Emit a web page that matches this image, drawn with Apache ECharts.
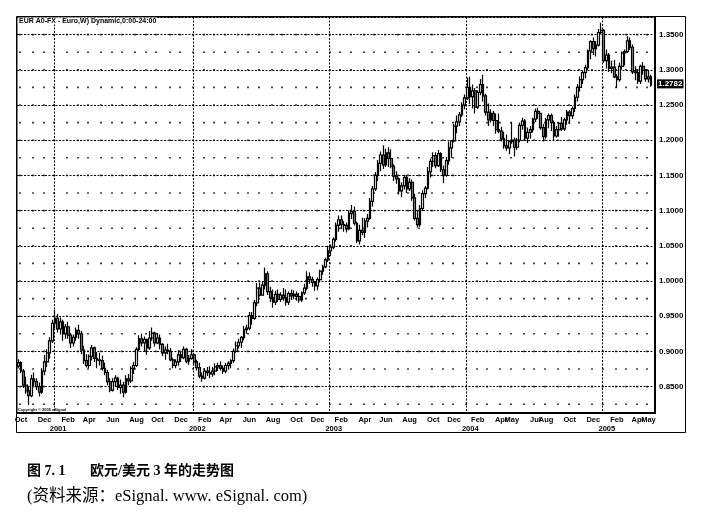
<!DOCTYPE html>
<html><head><meta charset="utf-8">
<script src="https://cdn.jsdelivr.net/npm/echarts/dist/echarts.min.js"></script>
<style>html,body{margin:0;padding:0;background:#fff}#c{width:704px;height:526px}</style>
</head><body><div id="c"></div>
<script>
// ---- data (weekly EUR/USD, first week starting 2000-09-25) ----
const startDate = '2000-09-25';
const weekSlots = 243;
const opens = [
.8790,.8840,.8720,.8520,.8440,.8370,.8610,.8570,.8500,.8420,
.8720,.8850,.8980,.9150,.9400,.9470,.9320,.9420,.9250,.9350,
.9230,.9120,.9200,.9300,.9250,.9020,.8870,.8800,.8930,.9050,
.8900,.8880,.8870,.8760,.8700,.8570,.8450,.8570,.8620,.8490,
.8520,.8420,.8610,.8580,.8760,.8800,.9030,.9180,.9120,.9170,
.9050,.9190,.9260,.9120,.9190,.9100,.8980,.9020,.9000,.8880,
.8800,.8850,.8950,.8910,.9030,.8860,.8900,.8950,.8850,.8770,
.8650,.8620,.8720,.8700,.8680,.8720,.8780,.8800,.8760,.8720,
.8800,.8830,.8870,.9000,.9080,.9130,.9200,.9310,.9330,.9510,
.9470,.9690,.9900,.9800,.9940,1.0100,.9850,.9760,.9700,.9810,
.9740,.9800,.9760,.9700,.9820,.9790,.9810,.9780,.9730,.9830,
.9900,1.0060,1.0020,.9980,.9930,1.0020,1.0140,1.0200,1.0300,1.0430,
1.0480,1.0590,1.0790,1.0870,1.0800,1.0790,1.0740,1.0960,1.0990,1.0820,
1.0570,1.0720,1.0690,1.0850,1.0890,1.1130,1.1310,1.1500,1.1670,1.1790,
1.1650,1.1820,1.1740,1.1630,1.1490,1.1450,1.1280,1.1350,1.1470,1.1310,
1.1400,1.1180,1.0890,1.0800,1.1030,1.1240,1.1320,1.1550,1.1700,1.1780,
1.1640,1.1810,1.1580,1.1500,1.1710,1.1890,1.1990,1.2200,1.2260,1.2360,
1.2500,1.2600,1.2750,1.2620,1.2700,1.2470,1.2680,1.2790,1.2630,1.2400,
1.2290,1.2380,1.2280,1.2150,1.2130,1.2020,1.1920,1.1890,1.1980,1.2000,
1.1900,1.2000,1.2210,1.2270,1.2030,1.2110,1.2150,1.2300,1.2410,1.2380,
1.2180,1.2050,1.2290,1.2350,1.2250,1.2060,1.2150,1.2240,1.2160,1.2290,
1.2400,1.2350,1.2450,1.2610,1.2750,1.2860,1.2960,1.3030,1.3270,1.3400,
1.3300,1.3350,1.3530,1.3560,1.3130,1.3210,1.3020,1.3040,1.2900,1.2860,
1.3050,1.3240,1.3260,1.3410,1.3320,1.2970,1.2960,1.2840,1.3050,1.2990,
1.2870,1.2900];
const closes = [
.8840,.8720,.8520,.8440,.8370,.8610,.8570,.8500,.8420,.8720,
.8850,.8980,.9150,.9400,.9470,.9320,.9420,.9250,.9350,.9230,
.9120,.9200,.9300,.9250,.9020,.8870,.8800,.8930,.9050,.8900,
.8880,.8870,.8760,.8700,.8570,.8450,.8570,.8620,.8490,.8520,
.8420,.8610,.8580,.8760,.8800,.9030,.9180,.9120,.9170,.9050,
.9190,.9260,.9120,.9190,.9100,.8980,.9020,.9000,.8880,.8800,
.8850,.8950,.8910,.9030,.8860,.8900,.8950,.8850,.8770,.8650,
.8620,.8720,.8700,.8680,.8720,.8780,.8800,.8760,.8720,.8800,
.8830,.8870,.9000,.9080,.9130,.9200,.9310,.9330,.9510,.9470,
.9690,.9900,.9800,.9940,1.0100,.9850,.9760,.9700,.9810,.9740,
.9800,.9760,.9700,.9820,.9790,.9810,.9780,.9730,.9830,.9900,
1.0060,1.0020,.9980,.9930,1.0020,1.0140,1.0200,1.0300,1.0430,1.0480,
1.0590,1.0790,1.0870,1.0800,1.0790,1.0740,1.0960,1.0990,1.0820,1.0570,
1.0720,1.0690,1.0850,1.0890,1.1130,1.1310,1.1500,1.1670,1.1790,1.1650,
1.1820,1.1740,1.1630,1.1490,1.1450,1.1280,1.1350,1.1470,1.1310,1.1400,
1.1180,1.0890,1.0800,1.1030,1.1240,1.1320,1.1550,1.1700,1.1780,1.1640,
1.1810,1.1580,1.1500,1.1710,1.1890,1.1990,1.2200,1.2260,1.2360,1.2500,
1.2600,1.2750,1.2620,1.2700,1.2470,1.2680,1.2790,1.2630,1.2400,1.2290,
1.2380,1.2280,1.2150,1.2130,1.2020,1.1920,1.1890,1.1980,1.2000,1.1900,
1.2000,1.2210,1.2270,1.2030,1.2110,1.2150,1.2300,1.2410,1.2380,1.2180,
1.2050,1.2290,1.2350,1.2250,1.2060,1.2150,1.2240,1.2160,1.2290,1.2400,
1.2350,1.2450,1.2610,1.2750,1.2860,1.2960,1.3030,1.3270,1.3400,1.3300,
1.3350,1.3530,1.3560,1.3130,1.3210,1.3020,1.3040,1.2900,1.2860,1.3050,
1.3240,1.3260,1.3410,1.3320,1.2970,1.2960,1.2840,1.3050,1.2990,1.2870,
1.2900,1.2782];
const lows = [
.8760,.8690,.8480,.8400,.8240,.8350,.8510,.8450,.8360,.8400,
.8660,.8780,.8900,.9120,.9330,.9270,.9240,.9150,.9180,.9180,
.9050,.9070,.9150,.9180,.8960,.8820,.8770,.8760,.8870,.8850,
.8760,.8800,.8730,.8660,.8520,.8420,.8430,.8500,.8450,.8400,
.8350,.8400,.8520,.8550,.8680,.8780,.9000,.9070,.9000,.8950,
.9020,.9150,.9070,.9100,.9030,.8930,.8880,.8960,.8860,.8760,
.8760,.8800,.8850,.8890,.8830,.8810,.8880,.8800,.8730,.8620,
.8570,.8600,.8650,.8620,.8640,.8660,.8720,.8730,.8680,.8690,
.8740,.8760,.8840,.8980,.9040,.9050,.9160,.9250,.9300,.9380,
.9450,.9640,.9780,.9790,.9880,.9800,.9700,.9620,.9660,.9700,
.9700,.9720,.9650,.9660,.9730,.9740,.9720,.9690,.9700,.9800,
.9870,.9960,.9920,.9860,.9870,.9980,1.0090,1.0180,1.0270,1.0350,
1.0450,1.0560,1.0700,1.0740,1.0700,1.0690,1.0720,1.0880,1.0790,1.0540,
1.0520,1.0650,1.0610,1.0760,1.0870,1.1060,1.1280,1.1420,1.1560,1.1590,
1.1620,1.1620,1.1600,1.1420,1.1380,1.1230,1.1190,1.1300,1.1250,1.1280,
1.1140,1.0860,1.0760,1.0770,1.0990,1.1180,1.1300,1.1470,1.1620,1.1600,
1.1620,1.1550,1.1390,1.1480,1.1650,1.1750,1.1970,1.2100,1.2200,1.2330,
1.2440,1.2570,1.2510,1.2450,1.2380,1.2440,1.2640,1.2550,1.2350,1.2200,
1.2250,1.2200,1.2090,1.2100,1.1980,1.1880,1.1850,1.1800,1.1950,1.1770,
1.1860,1.1970,1.2150,1.1990,1.1960,1.2020,1.2110,1.2260,1.2300,1.2150,
1.1980,1.2020,1.2170,1.2130,1.2000,1.2040,1.2050,1.2130,1.2130,1.2220,
1.2230,1.2300,1.2400,1.2550,1.2690,1.2800,1.2880,1.3000,1.3150,1.3210,
1.3190,1.3330,1.3500,1.3100,1.3020,1.2970,1.2950,1.2880,1.2740,1.2830,
1.3000,1.3060,1.3240,1.3280,1.2940,1.2850,1.2800,1.2800,1.2930,1.2830,
1.2820,1.2760];
const highs = [
.8890,.8860,.8750,.8640,.8510,.8670,.8700,.8620,.8560,.8760,
.8950,.9030,.9200,.9450,.9590,.9530,.9480,.9450,.9390,.9420,
.9260,.9240,.9340,.9380,.9290,.9080,.8960,.8960,.9090,.9070,
.8990,.8980,.8940,.8840,.8740,.8620,.8620,.8660,.8640,.8600,
.8570,.8660,.8680,.8790,.8850,.9060,.9230,.9250,.9210,.9180,
.9290,.9340,.9280,.9260,.9240,.9120,.9070,.9110,.9050,.8910,
.8890,.9020,.8990,.9070,.9050,.8950,.9030,.8970,.8880,.8840,
.8700,.8760,.8780,.8790,.8780,.8830,.8840,.8860,.8800,.8840,
.8860,.8890,.9040,.9140,.9180,.9220,.9360,.9380,.9560,.9560,
.9730,.9970,.9980,1.0000,1.0190,1.0140,.9920,.9880,.9860,.9880,
.9840,.9900,.9880,.9850,.9880,.9870,.9850,.9830,.9850,.9960,
1.0140,1.0120,1.0060,1.0000,1.0050,1.0160,1.0230,1.0330,1.0500,1.0520,
1.0620,1.0830,1.0930,1.0930,1.0850,1.0830,1.1000,1.1080,1.1060,1.0840,
1.0800,1.0900,1.0890,1.0950,1.1180,1.1350,1.1550,1.1720,1.1840,1.1930,
1.1880,1.1900,1.1870,1.1660,1.1560,1.1470,1.1400,1.1510,1.1510,1.1460,
1.1440,1.1240,1.1000,1.1080,1.1290,1.1350,1.1620,1.1740,1.1830,1.1830,
1.1860,1.1830,1.1640,1.1760,1.1980,1.2000,1.2230,1.2350,1.2400,1.2540,
1.2650,1.2890,1.2900,1.2790,1.2740,1.2710,1.2870,1.2930,1.2660,1.2520,
1.2440,1.2420,1.2380,1.2380,1.2190,1.2120,1.2080,1.2000,1.2260,1.2040,
1.2030,1.2250,1.2320,1.2300,1.2180,1.2200,1.2320,1.2450,1.2460,1.2390,
1.2230,1.2320,1.2380,1.2380,1.2280,1.2200,1.2260,1.2330,1.2320,1.2430,
1.2430,1.2480,1.2650,1.2800,1.2910,1.2990,1.3070,1.3290,1.3420,1.3460,
1.3410,1.3580,1.3667,1.3580,1.3290,1.3240,1.3130,1.3140,1.2940,1.3100,
1.3260,1.3290,1.3480,1.3460,1.3360,1.3050,1.3010,1.3070,1.3110,1.3010,
1.3000,1.2930];
const monthNames = ['Jan','Feb','Mar','Apr','May','Jun','Jul','Aug','Sep','Oct','Nov','Dec'];
const labeledMonths = ['2000-10','2000-12','2001-02','2001-04','2001-06','2001-08','2001-10','2001-12',
 '2002-02','2002-04','2002-06','2002-08','2002-10','2002-12','2003-02','2003-04','2003-06','2003-08',
 '2003-10','2003-12','2004-02','2004-04','2004-05','2004-07','2004-08','2004-10','2004-12',
 '2005-02','2005-04','2005-05'];
const yearLabels = ['2001','2002','2003','2004','2005'];
const headerText = 'EUR A0-FX - Euro,W) Dynamic,0:00-24:00';
const lastPrice = closes[closes.length - 1];

// ---- axis categories: Monday of each week ----
const weeks = [];
{
  const d = new Date(startDate + 'T00:00:00Z');
  for (let i = 0; i < weekSlots; i++) {
    weeks.push(d.toISOString().slice(0, 10));
    d.setUTCDate(d.getUTCDate() + 7);
  }
}
const firstWeekOf = (ym) => weeks.findIndex(w => w.slice(0, 7) === ym);
const monthLabelIdx = new Map();
labeledMonths.forEach(ym => monthLabelIdx.set(firstWeekOf(ym), monthNames[+ym.slice(5, 7) - 1]));
const yearIdx = new Map();
yearLabels.forEach(y => yearIdx.set(firstWeekOf(y + '-01'), y));
const monthStartIdx = new Set();
for (let i = 1; i < weeks.length; i++) if (weeks[i].slice(0, 7) !== weeks[i - 1].slice(0, 7)) monthStartIdx.add(i);

const candles = opens.map((o, i) => [o, closes[i], lows[i], highs[i]]);

const chart = echarts.init(document.getElementById('c'), null, {renderer: 'canvas'});
const lblFont = {fontFamily: '"Liberation Sans", Arial, sans-serif', fontWeight: 'bold', fontSize: 7.5, color: '#000'};
chart.setOption({
  animation: false,
  backgroundColor: '#fff',
  grid: {left: 17, right: 49, top: 17, bottom: 113, show: true, borderColor: '#000', borderWidth: 1, backgroundColor: 'transparent'},
  xAxis: [{
    type: 'category', data: weeks, boundaryGap: true, position: 'bottom',
    axisLine: {show: true, lineStyle: {color: '#000', width: 2}},
    axisTick: {show: false},
    axisLabel: Object.assign({interval: 0, formatter: (v, i) => monthLabelIdx.get(i) || '',
      margin: 3, hideOverlap: false}, lblFont),
    splitLine: {show: true, interval: (i) => monthStartIdx.has(i),
      lineStyle: {color: '#000', width: 1.5, type: [1.6, 16.0], dashOffset: 0.8}}
  }, {
    type: 'category', data: weeks, boundaryGap: true, position: 'bottom', offset: 9,
    axisLine: {show: false}, axisTick: {show: false},
    axisLabel: Object.assign({interval: 0, formatter: (v, i) => yearIdx.get(i) || '',
      margin: 3, hideOverlap: false, padding: [0, 0, 0, 6]}, lblFont),
    splitLine: {show: true, interval: (i) => yearIdx.has(i),
      lineStyle: {color: '#000', width: 1, type: [2, 1.5]}}
  }],
  yAxis: {
    type: 'value', position: 'right', min: 0.8125, max: 1.375,
    minInterval: 0.05, maxInterval: 0.05, splitNumber: 11, scale: true,
    axisLine: {show: true, lineStyle: {color: '#000', width: 2}},
    axisTick: {show: false},
    axisLabel: Object.assign({showMinLabel: false, showMaxLabel: false, margin: 4, formatter: (v) => v.toFixed(4)}, lblFont, {fontSize: 8}),
    splitLine: {show: true, lineStyle: {color: '#000', width: 1, type: [2, 1.5]}}
  },
  series: [{
    type: 'candlestick', xAxisIndex: 0, data: candles, barWidth: '85%',
    itemStyle: {color: '#ffffff', color0: '#8c8c8c', borderColor: '#000', borderColor0: '#000', borderWidth: 1.2},
    markLine: {
      silent: true, symbol: 'none', animation: false,
      lineStyle: {color: 'rgba(0,0,0,0)', width: 0.01},
      data: [{yAxis: lastPrice}],
      label: {show: true, position: 'end', distance: 2, formatter: lastPrice.toFixed(4),
        color: '#fff', backgroundColor: '#000', padding: [1, 1, 0, 1],
        fontFamily: '"Liberation Sans", Arial, sans-serif', fontWeight: 'bold', fontSize: 8}
    }
  }],
  graphic: [
    {type: 'rect', shape: {x: 16.5, y: 16.5, width: 669, height: 416}, style: {fill: 'none', stroke: '#000', lineWidth: 1}, silent: true, z: 100},
    {type: 'text', left: 18, top: 17.5, z: 101, style: {text: headerText, fill: '#000', backgroundColor: '#fff',
      font: 'bold 7px "Liberation Sans", Arial, sans-serif', padding: [0, 1]}},
    {type: 'text', left: 18, top: 408, z: 101, style: {text: 'Copyright © 2005 eSignal', fill: '#000',
      font: 'bold 4px "Liberation Sans", Arial, sans-serif'}},
    {type: 'text', left: 27, top: 464, style: {text: '图 7. 1', fill: '#000',
      font: 'bold 14px "Liberation Serif", "Noto Sans CJK SC", serif'}},
    {type: 'text', left: 90, top: 464, style: {text: '欧元/美元 3 年的走势图', fill: '#000',
      font: 'bold 14px "Liberation Serif", "Noto Sans CJK SC", serif'}},
    {type: 'text', left: 27, top: 488, style: {text: '(资料来源：eSignal. www. eSignal. com)', fill: '#000',
      font: '16.5px "Liberation Serif", "Noto Sans CJK SC", serif'}}
  ]
});
</script>
</body></html>
